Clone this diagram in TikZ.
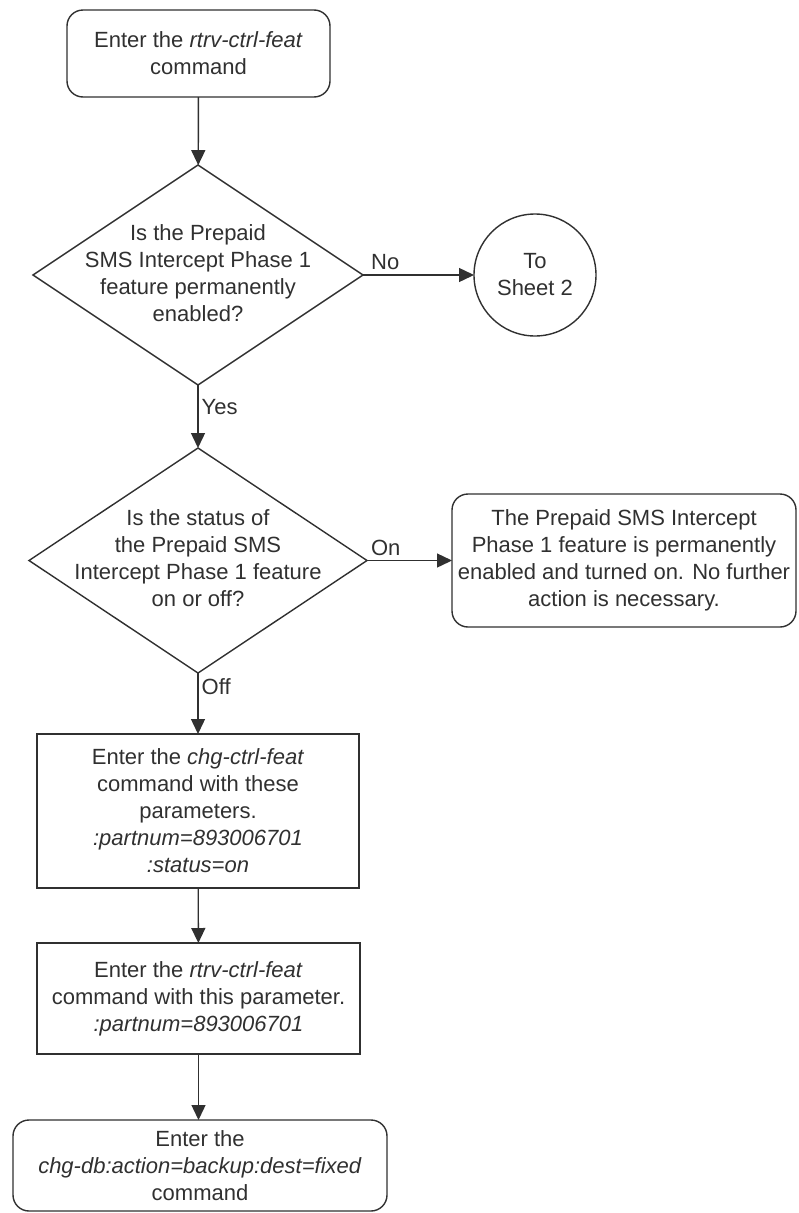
\documentclass[tikz,border=0pt]{standalone}
\usepackage{fontspec}
\setmainfont{Liberation Sans}
\usetikzlibrary{arrows.meta,shapes.geometric}
\definecolor{ink}{HTML}{303030}
\newcommand{\mltext}[1]{\makebox[0pt]{\smash{\raisebox{-0.25em}{\begin{tabular}{@{}c@{}}#1\end{tabular}}}}}
\begin{document}
\begin{tikzpicture}[x=1pt,y=-1pt,
  every node/.style={font=\fontsize{22}{27}\selectfont, text=ink},
  base/.style={draw=ink, line width=1.4pt, inner sep=0pt, outer sep=0pt, align=center},
  termbox/.style={base, rectangle, rounded corners=16pt},
  procbox/.style={base, rectangle},
  decision/.style={base, diamond},
  connector/.style={base, circle},
  flow/.style={draw=ink, line width=1.4pt, -{Triangle[length=15pt,width=14pt]}},
  lbl/.style={inner sep=3pt, text=ink}
]
\useasboundingbox (0,0) rectangle (798,1213);

\node[termbox, minimum width=263pt, minimum height=87pt] (start) at (198.5,53.5)
  {Enter the \textit{rtrv-ctrl-feat}\\command};

\node[decision, minimum width=330pt, minimum height=220pt] (d1) at (198,275)
  {\mltext{Is the Prepaid\\SMS Intercept Phase 1\\feature permanently\\enabled?}};

\node[connector, minimum size=122pt] (sheet) at (535,275) {To\\Sheet 2};

\node[decision, minimum width=338pt, minimum height=225pt] (d2) at (198,560.5)
  {\mltext{Is the status of\\the Prepaid SMS\\Intercept Phase 1 feature\\on or off?}};

\node[termbox, minimum width=344pt, minimum height=133pt] (done) at (624,560.5)
  {The Prepaid SMS Intercept\\Phase 1 feature is permanently\\enabled and turned on. No further\\action is necessary.};

\node[procbox, minimum width=322pt, minimum height=154pt] (chg) at (198,811)
  {Enter the \textit{chg-ctrl-feat}\\command with these\\parameters.\\\textit{:partnum=893006701}\\\textit{:status=on}};

\node[procbox, minimum width=323pt, minimum height=111pt] (rtrv) at (198.5,998.5)
  {Enter the \textit{rtrv-ctrl-feat}\\command with this parameter.\\\textit{:partnum=893006701}};

\node[termbox, minimum width=374pt, minimum height=91pt] (backup) at (200,1165.5)
  {Enter the\\\textit{chg-db:action=backup:dest=fixed}\\command};

\draw[flow] (start) -- (d1);
\draw[flow] (d1.east) -- node[lbl, pos=0.2, above, yshift=2pt] (nolbl) {No} (sheet.west);
\draw[flow] (d1.south) -- node[lbl, pos=0.35, right] (yeslbl) {Yes} (d2.north);
\draw[flow] (d2.east) -- node[lbl, pos=0.22, above, yshift=1pt] (onlbl) {On} (done.west);
\draw[flow] (d2.south) -- node[lbl, pos=0.23, right] (offlbl) {Off} (chg.north);
\draw[flow] (chg) -- (rtrv);
\draw[flow] (rtrv.south) -- (rtrv.south |- backup.north);
\end{tikzpicture}
\end{document}
